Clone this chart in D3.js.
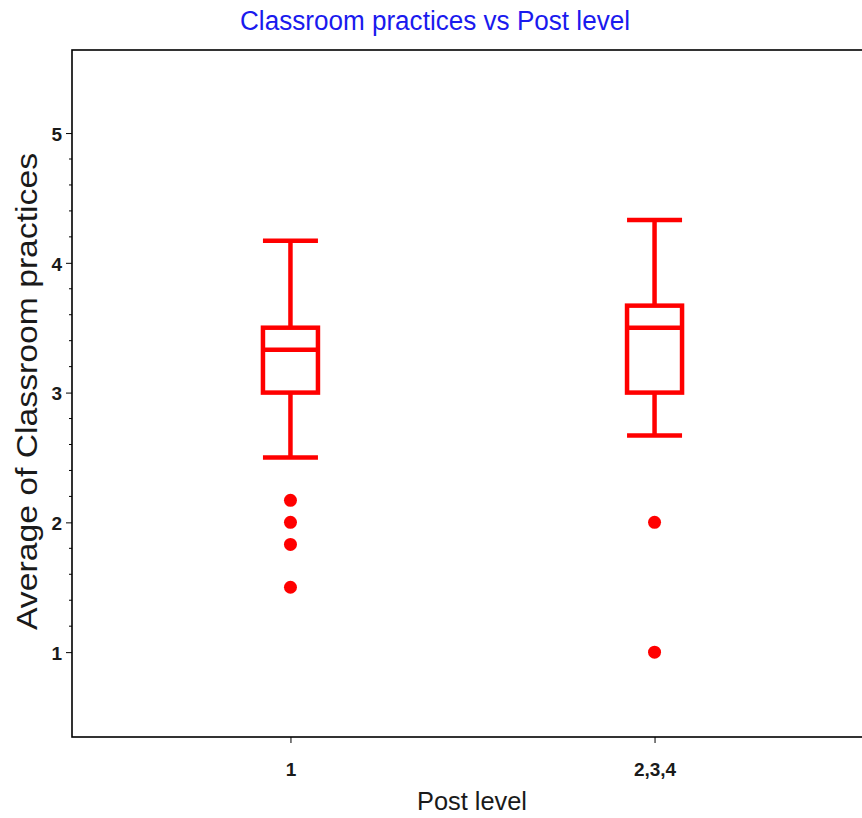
<!DOCTYPE html>
<html>
<head>
<meta charset="utf-8">
<script src="https://cdn.jsdelivr.net/npm/d3@7"></script>
<style>
  body { margin: 0; background: #fff; }
  text { font-family: "Liberation Sans", Arial, sans-serif; }
</style>
</head>
<body>
<div id="chart"></div>
<script>
// Post level groups
const categories = ["1", "2,3,4"];

// five-number summaries
const whiskerLow = [2.5, 2.67];
const q1 = [3.0, 3.0];
const median = [3.33, 3.5];
const q3 = [3.5, 3.67];
const whiskerHigh = [4.17, 4.33];

// outliers per group
const outliers = [
  [2.17, 2.0, 1.83, 1.5],
  [2.0, 1.0]
];

const yTicks = [1, 2, 3, 4, 5];
const yMinorTicks = [1.2, 1.4, 1.6, 1.8, 2.2, 2.4, 2.6, 2.8, 3.2, 3.4, 3.6, 3.8, 4.2, 4.4, 4.6, 4.8];

const width = 862, height = 818;
const margin = { top: 50, right: -11, bottom: 81, left: 72 };
const red = "#ff0000";

const svg = d3.select("#chart").append("svg")
  .attr("width", width)
  .attr("height", height);

const x = d3.scalePoint()
  .domain(categories)
  .range([margin.left, width - margin.right])
  .padding(0.6);

const y = d3.scaleLinear()
  .domain([0.346, 5.64])
  .range([height - margin.bottom, margin.top]);

// frame (right side runs off the page, like the original)
svg.append("rect")
  .attr("x", margin.left)
  .attr("y", margin.top)
  .attr("width", width - margin.right - margin.left)
  .attr("height", height - margin.bottom - margin.top)
  .attr("fill", "none")
  .attr("stroke", "#000")
  .attr("stroke-width", 1.6);

// y axis, major + minor ticks
const yAxis = svg.append("g")
  .attr("transform", `translate(${margin.left},0)`)
  .call(d3.axisLeft(y).tickValues(yTicks).tickSize(6).tickFormat(d3.format("d")));
yAxis.select(".domain").remove();
yAxis.selectAll("text")
  .attr("x", -10)
  .attr("dy", "0.38em")
  .style("font-size", "19px")
  .style("font-weight", "bold")
  .attr("fill", "#1a1a1a");

svg.append("g").selectAll("line").data(yMinorTicks).join("line")
  .attr("x1", margin.left - 3).attr("x2", margin.left)
  .attr("y1", d => y(d)).attr("y2", d => y(d))
  .attr("stroke", "#000");

// x axis
const xAxis = svg.append("g")
  .attr("transform", `translate(0,${height - margin.bottom})`)
  .call(d3.axisBottom(x).tickSize(6));
xAxis.select(".domain").remove();
xAxis.selectAll("text")
  .attr("y", 26)
  .style("font-size", "19px")
  .style("font-weight", "bold")
  .attr("fill", "#1a1a1a");

// boxes
const boxW = 55;
const g = svg.append("g");
categories.forEach((c, i) => {
  const cx = x(c);
  const lines = [
    [cx, whiskerHigh[i], cx, q3[i]],
    [cx, q1[i], cx, whiskerLow[i]],
    [cx - boxW / 2, whiskerHigh[i], cx + boxW / 2, whiskerHigh[i]],
    [cx - boxW / 2, whiskerLow[i], cx + boxW / 2, whiskerLow[i]],
    [cx - boxW / 2, median[i], cx + boxW / 2, median[i]]
  ];
  g.selectAll(null).data(lines).join("line")
    .attr("x1", d => d[0]).attr("y1", d => y(d[1]))
    .attr("x2", d => d[2]).attr("y2", d => y(d[3]))
    .attr("stroke", red)
    .attr("stroke-width", 4.5);
  g.append("rect")
    .attr("x", cx - boxW / 2)
    .attr("y", y(q3[i]))
    .attr("width", boxW)
    .attr("height", y(q1[i]) - y(q3[i]))
    .attr("fill", "none")
    .attr("stroke", red)
    .attr("stroke-width", 4.5);
  g.selectAll(null).data(outliers[i]).join("circle")
    .attr("cx", cx)
    .attr("cy", d => y(d))
    .attr("r", 6.5)
    .attr("fill", red);
});

// titles (narrow look via textLength)
svg.append("text")
  .attr("x", 240).attr("y", 30)
  .attr("textLength", 390)
  .attr("lengthAdjust", "spacingAndGlyphs")
  .style("font-size", "27px")
  .attr("fill", "#1a1aee")
  .text("Classroom practices vs Post level");

svg.append("text")
  .attr("x", 417).attr("y", 810)
  .attr("textLength", 110)
  .attr("lengthAdjust", "spacingAndGlyphs")
  .style("font-size", "26px")
  .attr("fill", "#1a1a1a")
  .text("Post level");

svg.append("text")
  .attr("transform", "translate(37,630) rotate(-90)")
  .attr("textLength", 477)
  .attr("lengthAdjust", "spacingAndGlyphs")
  .style("font-size", "29px")
  .attr("fill", "#1a1a1a")
  .text("Average of Classroom practices");
</script>
</body>
</html>
